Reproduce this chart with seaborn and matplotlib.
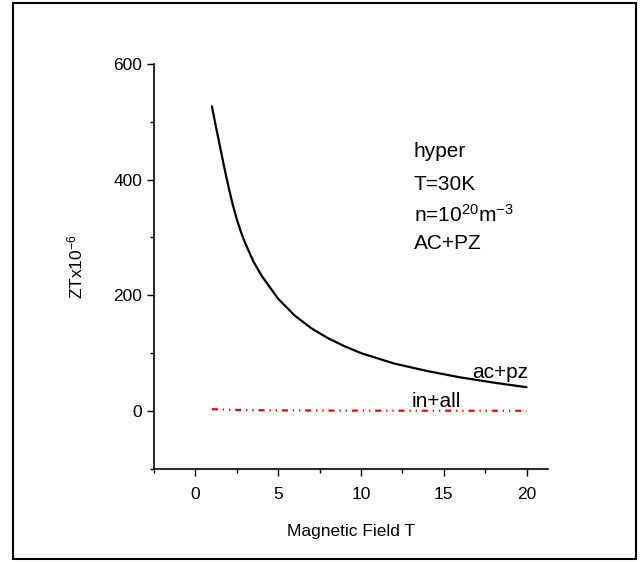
import numpy as np
import pandas as pd
import matplotlib
matplotlib.use("Agg")
import matplotlib.pyplot as plt
import seaborn as sns
from matplotlib.patches import Rectangle
from matplotlib.ticker import MultipleLocator

# values
field_acpz = [1, 1.25, 1.5, 1.75, 2, 2.25, 2.5, 2.75, 3, 3.5, 4, 5, 6, 7, 8, 9, 10,
              12, 14, 16, 18, 20]
zt_acpz = [527, 491, 456, 421, 388, 358, 332, 310, 291, 259, 234, 194, 165, 143, 126, 112, 100,
           82, 69, 58, 49, 41]

field_inall = [1, 2, 3, 5, 8, 10, 14, 20]
zt_inall = [3, 2, 1.5, 1, 0.6, 0.5, 0.3, 0.2]

sns.set_style("ticks")
plt.rcParams["font.family"] = ["Liberation Sans", "DejaVu Sans"]
plt.rcParams["mathtext.fontset"] = "custom"
plt.rcParams["mathtext.rm"] = "Liberation Sans"
plt.rcParams["mathtext.default"] = "regular"
plt.rcParams["text.color"] = "black"
plt.rcParams["axes.labelcolor"] = "black"
plt.rcParams["xtick.color"] = "black"
plt.rcParams["ytick.color"] = "black"

df_acpz = pd.DataFrame({"B": field_acpz, "ZT": zt_acpz})
df_inall = pd.DataFrame({"B": field_inall, "ZT": zt_inall})

fig = plt.figure(figsize=(6.44, 5.62), dpi=100)
ax = fig.add_axes([0.239, 0.166, 0.612, 0.720])

sns.lineplot(data=df_acpz, x="B", y="ZT", color="black", linewidth=1.6, ax=ax)
sns.lineplot(data=df_inall, x="B", y="ZT", color="red", linewidth=1.6, ax=ax,
             linestyle=(0, (2.7, 2.2, 0.6, 2.2, 0.6, 2.2)))

ax.set_xlim(-2.5, 21.3)
ax.set_ylim(-100, 600)
ax.set_xticks([0, 5, 10, 15, 20])
ax.set_yticks([0, 200, 400, 600])
ax.xaxis.set_minor_locator(MultipleLocator(2.5))
ax.yaxis.set_minor_locator(MultipleLocator(100))
ax.tick_params(which="major", direction="out", length=5, width=1, labelsize=12.5)
ax.tick_params(axis="x", which="major", pad=8)
ax.tick_params(which="minor", direction="out", length=3, width=1)

sns.despine(ax=ax)
for s in ["left", "bottom"]:
    ax.spines[s].set_linewidth(1.2)
    ax.spines[s].set_color("black")

ax.set_xlabel("Magnetic Field T", fontsize=12.5, labelpad=16)
ax.set_ylabel("ZTx10$^{-6}$", fontsize=12.5, labelpad=20)

ax.text(13.2, 448, "hyper", fontsize=15, va="center")
ax.text(13.2, 392, "T=30K", fontsize=15, va="center")
ax.text(13.2, 339, "n=10$^{20}$m$^{-3}$", fontsize=15, va="center")
ax.text(13.2, 289, "AC+PZ", fontsize=15, va="center")
ax.text(16.7, 67, "ac+pz", fontsize=15, va="center")
ax.text(13.05, 17, "in+all", fontsize=15, va="center")

# outer frame around the whole figure
fig.patches.append(Rectangle((13 / 644, 1 - 559 / 562), (636 - 13) / 644, (559 - 3) / 562,
                             transform=fig.transFigure, fill=False,
                             edgecolor="black", linewidth=1.5))

fig.savefig("out.png", dpi=100)
